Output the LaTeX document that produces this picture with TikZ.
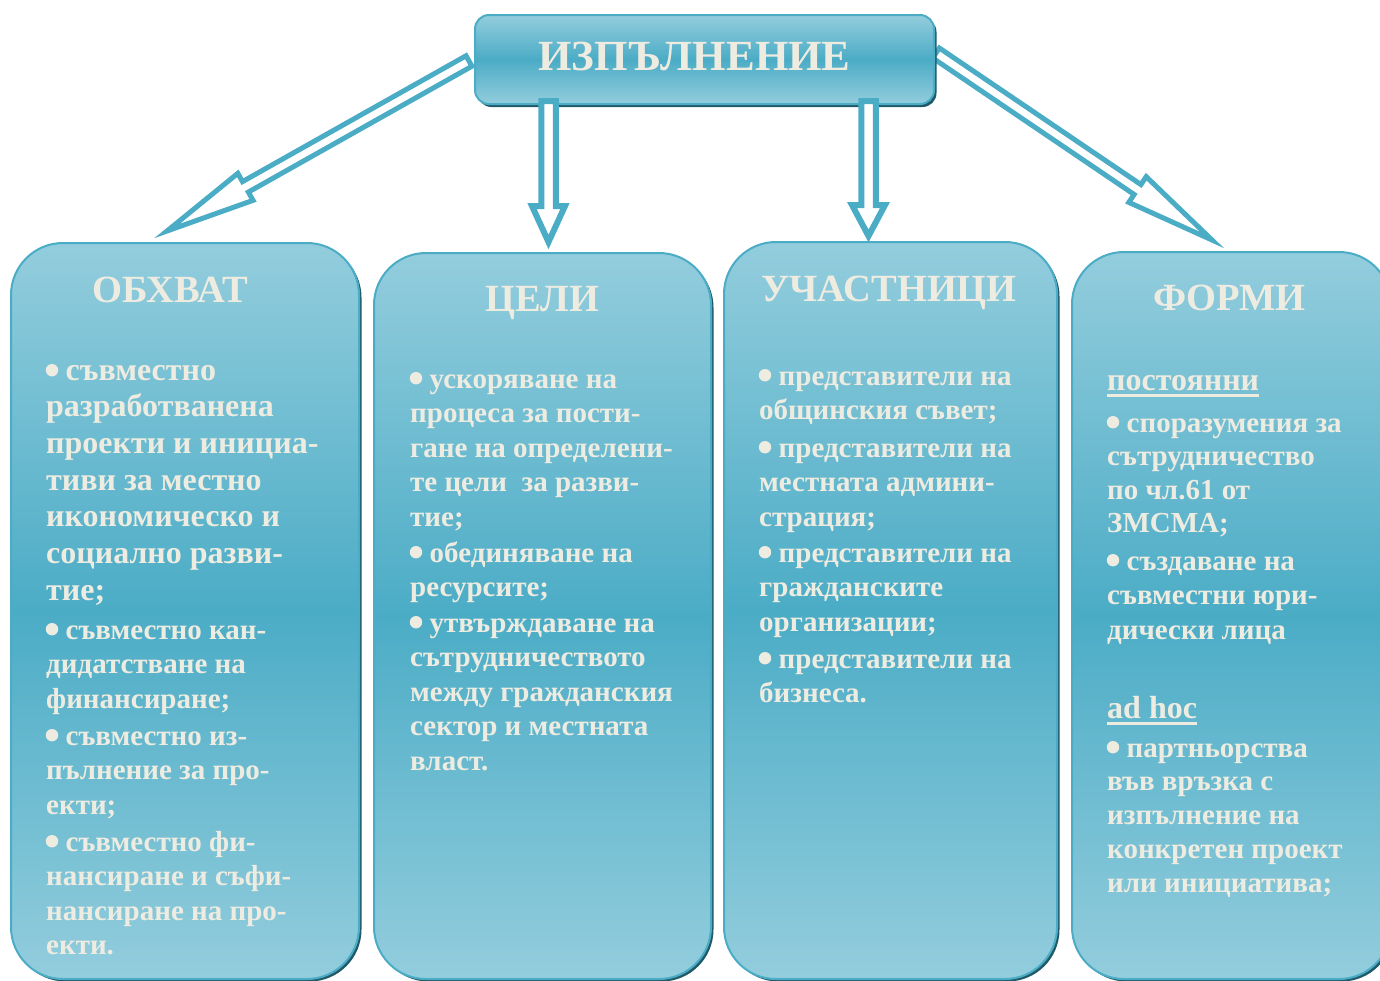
\documentclass[tikz,border=0pt]{standalone}
\usepackage{fontspec}
\setmainfont{Liberation Serif}
\usetikzlibrary{calc,shadows}
\definecolor{aqua}{HTML}{4BACC6}
\definecolor{aqualight}{HTML}{93CDDD}
\definecolor{shadowc}{HTML}{215968}
\definecolor{cream}{HTML}{EEECE1}
% [#1] extra style, #2 start, #3 end, #4 shaft half width, #5 head half width, #6 head length
\newcommand{\blockarrow}[6][]{%
  \coordinate (#2#3h) at ($(#3)!#6!(#2)$);
  \draw[arrowline,#1] ($(#2)!#4!90:(#3)$) -- ($(#2#3h)!#4!90:(#3)$) -- ($(#2#3h)!#5!90:(#3)$)
     -- (#3) -- ($(#2#3h)!#5!-90:(#3)$) -- ($(#2#3h)!#4!-90:(#3)$) -- ($(#2)!#4!-90:(#3)$) -- cycle;
}
\newcommand{\tline}[1]{\hbox{#1}}
\newcommand{\bsp}{\kern19.5pt}
\newcommand{\bulletat}[1]{\fill[cream] ([xshift=6pt,yshift=9.8pt]#1.base west) circle (6.2pt);}
\begin{document}
\begin{tikzpicture}[x=1pt,y=-1pt,
  arrowline/.style={draw=aqua, line width=5pt, fill=white, line join=miter},
  colbox/.style={draw=aqua, line width=2pt, rounded corners=52pt, top color=aqualight, bottom color=aqualight, middle color=aqua,
     drop shadow={shadow xshift=2.5pt, shadow yshift=-2.5pt, fill=shadowc, opacity=1}, anchor=north west, inner sep=0pt},
  titlebox/.style={draw=aqua, line width=2pt, rounded corners=14pt, top color=aqualight, bottom color=aqualight, middle color=aqua,
     drop shadow={shadow xshift=2.5pt, shadow yshift=-3pt, fill=shadowc, opacity=1}, anchor=north west, inner sep=0pt},
  titletext/.style={anchor=base, inner sep=0pt, text=cream, font=\fontsize{43}{43}\selectfont\bfseries},
  headtext/.style={anchor=base, inner sep=0pt, text=cream, font=\fontsize{38.5}{38.5}\selectfont\bfseries},
  body/.style={anchor=base west, inner sep=0pt, text=cream, font=\fontsize{29}{34.5}\selectfont\bfseries},
  bodybig/.style={body, font=\fontsize{32}{36.7}\selectfont\bfseries},
  subhead/.style={body, font=\fontsize{32}{32}\selectfont\bfseries},
  uline/.style={draw=cream, line width=2.5pt}
]
\useasboundingbox (0,0) rectangle (1380,980);

% diagonal arrows (behind the title box)
\coordinate (aLs) at (469,61);
\coordinate (aLe) at (167,231);
\coordinate (aRs) at (936,53);
\coordinate (aRe) at (1212,240);
\blockarrow{aLs}{aLe}{6pt}{15.5pt}{90pt}
\blockarrow{aRs}{aRe}{6pt}{15.5pt}{90pt}

% title box
\node[titlebox, minimum width=459pt, minimum height=89pt] (title) at (474,14) {};
\node[titletext] (tt) at (694.5,70) {ИЗПЪЛНЕНИЕ};

% vertical arrows
\coordinate (aAs) at (548.5,101);
\coordinate (aAe) at (548.5,242);
\coordinate (aBs) at (868.5,101);
\coordinate (aBe) at (868.5,236);
\blockarrow[line width=6pt]{aAs}{aAe}{7.25pt}{16.5pt}{36pt}
\blockarrow[line width=6pt]{aBs}{aBe}{7.25pt}{16.5pt}{31pt}

% column boxes
\node[colbox, minimum width=348pt, minimum height=736pt] (b1) at (10,242) {};
\node[colbox, minimum width=337pt, minimum height=726pt] (b2) at (373,252) {};
\node[colbox, minimum width=333pt, minimum height=737pt] (b3) at (723,241) {};
\node[colbox, minimum width=319pt, minimum height=727pt] (b4) at (1071,251) {};

% headers
\node[headtext] (h1) at (170,302) {ОБХВАТ};
\node[headtext] (h2) at (542.5,311) {ЦЕЛИ};
\node[headtext] (h3) at (889,301) {УЧАСТНИЦИ};
\node[headtext] (h4) at (1229.5,310) {ФОРМИ};

% column 1
\node[bodybig] (c1p1) at (46,380) {\vtop{\tline{\bsp съвместно}\tline{разработванена}\tline{проекти и инициа-}\tline{тиви за местно}\tline{икономическо и}\tline{социално разви-}\tline{тие;}}};
\node[body] (c1p2) at (46,639) {\vtop{\tline{\bsp съвместно кан-}\tline{дидатстване на}\tline{финансиране;}}};
\node[body] (c1p3) at (46,745) {\vtop{\tline{\bsp съвместно из-}\tline{пълнение за про-}\tline{екти;}}};
\node[body] (c1p4) at (46,851) {\vtop{\tline{\bsp съвместно фи-}\tline{нансиране и съфи-}\tline{нансиране на про-}\tline{екти.}}};

% column 2
\node[body] (c2p1) at (410,388) {\vtop{\tline{\bsp ускоряване на}\tline{процеса за пости-}\tline{гане на определени-}\tline{те цели\ \ за разви-}\tline{тие;}}};
\node[body] (c2p2) at (410,562) {\vtop{\tline{\bsp обединяване на}\tline{ресурсите;}}};
\node[body] (c2p3) at (410,632) {\vtop{\tline{\bsp утвърждаване на}\tline{сътрудничеството}\tline{между гражданския}\tline{сектор и местната}\tline{власт.}}};

% column 3
\node[body] (c3p1) at (759,385) {\vtop{\tline{\bsp представители на}\tline{общинския съвет;}}};
\node[body] (c3p2) at (759,457) {\vtop{\tline{\bsp представители на}\tline{местната админи-}\tline{страция;}}};
\node[body] (c3p3) at (759,562) {\vtop{\tline{\bsp представители на}\tline{гражданските}\tline{организации;}}};
\node[body] (c3p4) at (759,668) {\vtop{\tline{\bsp представители на}\tline{бизнеса.}}};

% column 4
\node[subhead] (u1) at (1107,390) {постоянни};
\draw[uline] ([yshift=-5.5pt]u1.base west) -- ([yshift=-5.5pt]u1.base east);
\node[body, font=\fontsize{29}{33.5}\selectfont\bfseries] (c4p1) at (1107,432) {\vtop{\tline{\bsp споразумения за}\tline{сътрудничество}\tline{по чл.61 от}\tline{ЗМСМА;}}};
\node[body] (c4p2) at (1107,570) {\vtop{\tline{\bsp създаване на}\tline{съвместни юри-}\tline{дически лица}}};
\node[subhead] (u2) at (1107,718) {ad hoc};
\draw[uline] ([yshift=-5.5pt]u2.base west) -- ([yshift=-5.5pt]u2.base east);
\node[body, font=\fontsize{29}{33.8}\selectfont\bfseries] (c4p3) at (1107,757) {\vtop{\tline{\bsp партньорства}\tline{във връзка с}\tline{изпълнение на}\tline{конкретен проект}\tline{или инициатива;}}};

% bullets
\bulletat{c1p1}\bulletat{c1p2}\bulletat{c1p3}\bulletat{c1p4}
\bulletat{c2p1}\bulletat{c2p2}\bulletat{c2p3}
\bulletat{c3p1}\bulletat{c3p2}\bulletat{c3p3}\bulletat{c3p4}
\bulletat{c4p1}\bulletat{c4p2}\bulletat{c4p3}
\end{tikzpicture}
\end{document}
